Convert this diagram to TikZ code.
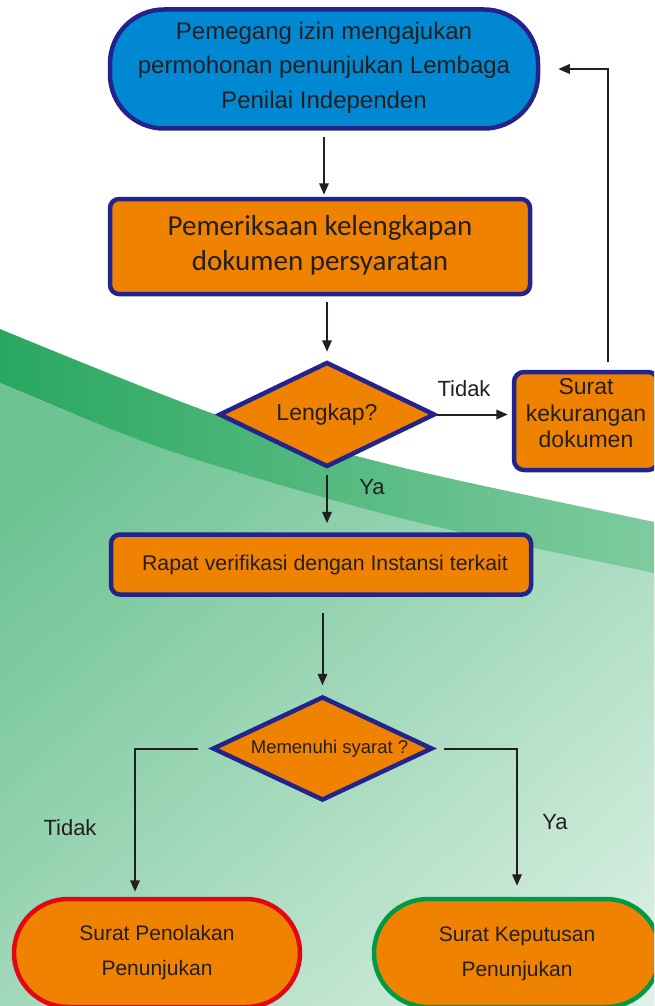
\documentclass[tikz,border=0pt]{standalone}
\usepackage{fontspec}
\setmainfont{Liberation Sans}
\newfontfamily\calfont{Carlito}
\usetikzlibrary{shapes.geometric,arrows.meta,calc}
\definecolor{navy}{HTML}{23238C}
\definecolor{orng}{HTML}{EF8200}
\definecolor{sky}{HTML}{0089D2}
\definecolor{ink}{HTML}{231F20}
\definecolor{redb}{HTML}{E30613}
\definecolor{greenb}{HTML}{009A44}
\definecolor{band1}{HTML}{26A65E}
\definecolor{band2}{HTML}{3CB06D}
\definecolor{band3}{HTML}{84CDA2}
\definecolor{low1}{HTML}{6EC393}
\newcommand\liftup[2]{\raisebox{#1}[\height][\depth]{\begin{tabular}{@{}c@{}}#2\end{tabular}}}
\begin{document}
\begin{tikzpicture}[x=1pt,y=-1pt,
 box/.style={draw=navy, line width=4.5pt, fill=orng, text=ink, rounded corners=9pt, inner sep=0pt},
 term/.style={line width=4.5pt, fill=orng, text=ink, rounded corners=54pt, inner sep=0pt},
 dia/.style={diamond, draw=navy, line width=4.5pt, fill=orng, text=ink, inner sep=0pt, aspect=2},
 arr/.style={draw=ink, line width=2pt, -{Triangle[length=11.5pt,width=9.5pt]}},
 lbl/.style={text=ink, font=\fontsize{22}{26}\selectfont}]
\useasboundingbox (0,0) rectangle (654,1006);
\clip (0,0) rectangle (654,1006);
\fill[white] (0,0) rectangle (654,1006);
% lower light region: diagonal gradient built from thin strips
\begin{scope}
  \clip (-10,379) -- plot[smooth] coordinates {(0,383) (167,450) (400,518) (654,573) (664,575)}
    -- (664,1016) -- (-10,1016) -- cycle;
  \fill[low1] (-10,300) rectangle (664,1016);
  \foreach \i in {0,...,82}{
    \pgfmathsetmacro\ua{387+10*\i}
    \pgfmathsetmacro\ub{\ua+10.6}
    \pgfmathtruncatemacro\pp{100-\i}
    \fill[low1!\pp!white] (-10,{(\ua+6.5)/0.74}) -- (664,{(\ua-431.6)/0.74})
      -- (664,{(\ub-431.6)/0.74}) -- (-10,{(\ub+6.5)/0.74}) -- cycle;
  }
\end{scope}
% dark band
\shade[left color=band1, middle color=band2, right color=band3]
  (-10,325) -- plot[smooth] coordinates {(0,329) (217,415) (400,467) (654,522) (664,524)}
  -- plot[smooth] coordinates {(664,575) (654,573) (400,518) (167,450) (0,383) (-10,379)} -- cycle;

\node[term, draw=navy, fill=sky, minimum width=428pt, minimum height=119pt,
  font=\fontsize{24}{34.5}\selectfont] (start) at (324,69)
  {\liftup{2pt}{Pemegang izin mengajukan\\permohonan penunjukan Lembaga\\Penilai Independen}};
\node[box, minimum width=420pt, minimum height=95pt,
  font=\calfont\fontsize{29}{35}\selectfont] (check) at (320,246.5)
  {\liftup{1pt}{Pemeriksaan kelengkapan\\dokumen persyaratan}};
\node[dia, minimum width=216pt, minimum height=105pt, font=\fontsize{23}{28}\selectfont] (d1) at (327,414.5) {Lengkap?};
\node[box, rounded corners=10pt, minimum width=144pt, minimum height=98pt,
  font=\fontsize{23}{26.5}\selectfont] (lack) at (586,421) {\liftup{5pt}{Surat\\kekurangan\\dokumen}};
\node[box, minimum width=420pt, minimum height=60pt, font=\fontsize{21.3}{25}\selectfont] (meet) at (321,564.5)
  {\hspace*{8pt}Rapat verifikasi dengan Instansi terkait};
\node[dia, minimum width=220pt, minimum height=104pt, font=\fontsize{18.5}{22}\selectfont] (d2) at (322.5,748.5) {\hspace*{14pt}Memenuhi syarat ?};
\node[term, draw=redb, minimum width=286pt, minimum height=108pt,
  font=\fontsize{21}{35}\selectfont] (reject) at (157,953) {\liftup{2.5pt}{Surat Penolakan\\Penunjukan}};
\node[term, draw=greenb, minimum width=286pt, minimum height=108pt,
  font=\fontsize{21}{35}\selectfont] (accept) at (517,953) {\liftup{1.5pt}{Surat Keputusan\\Penunjukan}};

\draw[arr, shorten <=6pt, shorten >=2pt] (start.south) -- (start.south |- check.north);
\draw[arr, shorten <=6pt, shorten >=8pt] (d1.north |- check.south) -- (d1.north);
\draw[arr, shorten >=4pt] (d1.east) -- (d1.east -| lack.west);
\draw[arr, shorten <=8pt, shorten >=18pt] ([xshift=22pt]lack.north) |- (start.east);
\draw[arr, shorten <=6pt, shorten >=9pt] (d1.south) -- (d1.south |- meet.north);
\draw[arr, shorten <=16pt, shorten >=9pt] (meet.south -| d2.north) -- (d2.north);
\draw[arr, shorten <=12pt, shorten >=5pt] (d2.west) -| ([xshift=-22pt]reject.north);
\draw[arr, shorten <=9pt, shorten >=11pt] (d2.east) -| (accept.north);

\node[lbl] (t1) at (464,389) {Tidak};
\node[lbl] (y1) at (372,487) {Ya};
\node[lbl] (t2) at (70,828) {Tidak};
\node[lbl] (y2) at (555,822) {Ya};
\end{tikzpicture}
\end{document}
